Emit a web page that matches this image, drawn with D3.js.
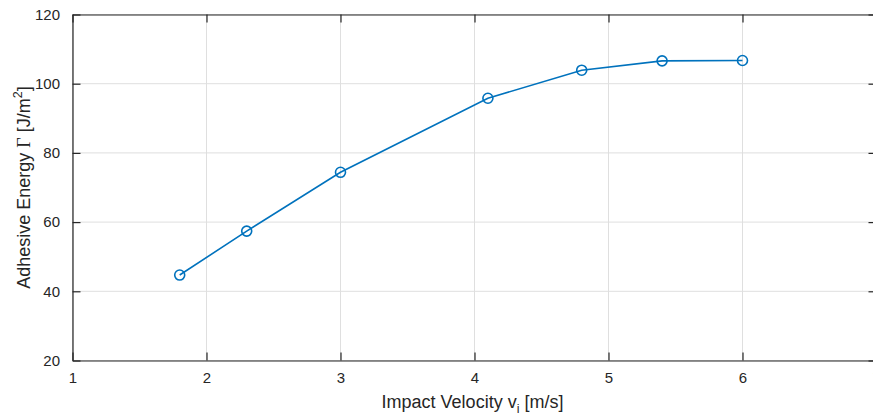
<!DOCTYPE html>
<html>
<head>
<meta charset="utf-8">
<script src="https://cdn.jsdelivr.net/npm/d3@7"></script>
<style>
  html, body { margin: 0; padding: 0; background: #fff; }
  svg { display: block; }
  text { font-family: Arial, "Liberation Sans", Helvetica, sans-serif; }
</style>
</head>
<body>
<svg id="chart" width="873" height="416"></svg>
<script>
// Impact velocity (m/s) and measured adhesive energy (J/m^2)
const velocity = [1.8, 2.3, 3.0, 4.1, 4.8, 5.4, 6.0];
const energy   = [44.7, 57.4, 74.4, 95.8, 103.9, 106.6, 106.7];
const xTicks = [1, 2, 3, 4, 5, 6, 7];
const yTicks = [20, 40, 60, 80, 100, 120];

const W = 873, H = 416;
const m = { left: 72.5, top: 14.5, right: 876.5, bottom: 360.5 };
const axisColor = "#262626";
const gridColor = "#dfdfdf";
const lineColor = "#0072BD";

const svg = d3.select("#chart");
const x = d3.scaleLinear().domain([1, 7]).range([m.left, m.right]);
const y = d3.scaleLinear().domain([20, 120]).range([m.bottom, m.top]);

// grid
const grid = svg.append("g");
grid.selectAll("line.gx").data(xTicks).join("line")
  .attr("x1", d => x(d)).attr("x2", d => x(d))
  .attr("y1", m.top).attr("y2", m.bottom)
  .attr("stroke", gridColor).attr("stroke-width", 1);
grid.selectAll("line.gy").data(yTicks).join("line")
  .attr("x1", m.left).attr("x2", m.right)
  .attr("y1", d => y(d)).attr("y2", d => y(d))
  .attr("stroke", gridColor).attr("stroke-width", 1);

// axes with inward ticks
const tickLen = 8;
const xAxis = svg.append("g").attr("transform", `translate(0,${m.bottom})`)
  .call(d3.axisBottom(x).tickValues(xTicks).tickSizeInner(-tickLen).tickSizeOuter(0).tickPadding(14).tickFormat(d3.format("d")));
const yAxis = svg.append("g").attr("transform", `translate(${m.left},0)`)
  .call(d3.axisLeft(y).tickValues(yTicks).tickSizeInner(-tickLen).tickSizeOuter(0).tickPadding(14).tickFormat(d3.format("d")));
const xTop = svg.append("g").attr("transform", `translate(0,${m.top})`)
  .call(d3.axisTop(x).tickValues(xTicks).tickSizeInner(-tickLen).tickSizeOuter(0).tickFormat(""));
const yRight = svg.append("g").attr("transform", `translate(${m.right},0)`)
  .call(d3.axisRight(y).tickValues(yTicks).tickSizeInner(-tickLen).tickSizeOuter(0).tickFormat(""));

[xAxis, yAxis, xTop, yRight].forEach(g => {
  g.select(".domain").attr("stroke", axisColor).attr("stroke-width", 1.2);
  g.selectAll(".tick line").attr("stroke", axisColor).attr("stroke-width", 1.2);
  g.selectAll(".tick text").attr("fill", axisColor).attr("font-size", 15)
    .attr("font-family", "Arial, 'Liberation Sans', sans-serif");
});
xAxis.selectAll(".tick text").attr("dy", "0.55em");
yAxis.selectAll(".tick text").attr("dx", "0.1em");

// data line and markers
const pts = velocity.map((v, i) => [v, energy[i]]);
svg.append("path")
  .datum(pts)
  .attr("fill", "none")
  .attr("stroke", lineColor)
  .attr("stroke-width", 1.6)
  .attr("d", d3.line().x(d => x(d[0])).y(d => y(d[1])));
svg.selectAll("circle.pt").data(pts).join("circle")
  .attr("class", "pt")
  .attr("cx", d => x(d[0])).attr("cy", d => y(d[1]))
  .attr("r", 5)
  .attr("fill", "none")
  .attr("stroke", lineColor)
  .attr("stroke-width", 1.6);

// axis labels
const xl = svg.append("text")
  .attr("x", (m.left + m.right) / 2 - 2).attr("y", 408)
  .attr("text-anchor", "middle").attr("fill", axisColor).attr("font-size", 18);
xl.append("tspan").text("Impact Velocity v");
xl.append("tspan").attr("font-size", 12.5).attr("dy", 5).text("i");
xl.append("tspan").attr("dy", -5).text(" [m/s]");

const yl = svg.append("text")
  .attr("transform", `translate(30,${(m.top + m.bottom) / 2}) rotate(-90)`)
  .attr("text-anchor", "middle").attr("fill", axisColor).attr("font-size", 18);
yl.append("tspan").text("Adhesive Energy ");
yl.append("tspan").attr("font-family", "'Liberation Serif', 'DejaVu Serif', serif").text("Γ");
yl.append("tspan").text(" [J/m");
yl.append("tspan").attr("font-size", 12.5).attr("dy", -8).text("2");
yl.append("tspan").attr("dy", 8).text("]");
</script>
</body>
</html>
